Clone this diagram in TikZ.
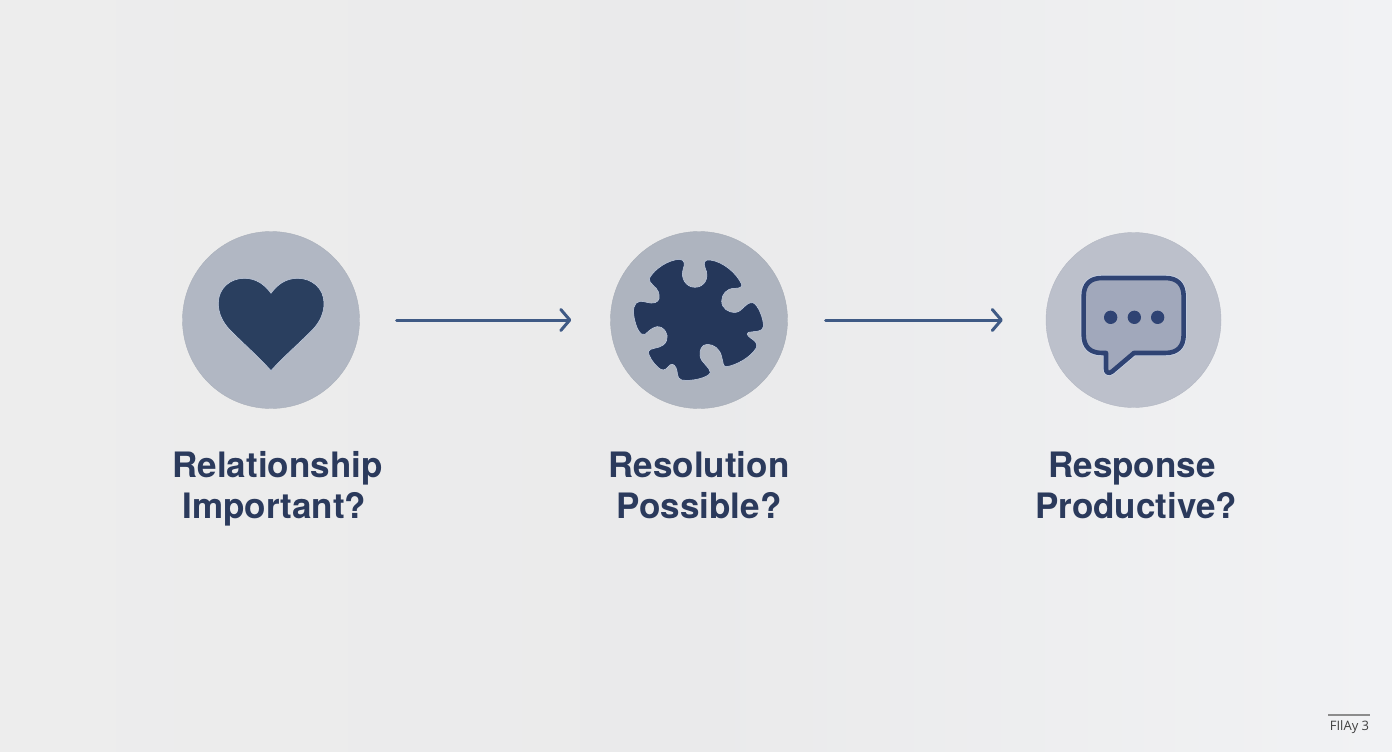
\documentclass[tikz,border=0pt]{standalone}
\usepackage{fontspec}
\setmainfont{TeX Gyre Heros}
\newfontfamily\footfont{Open Sans}
\usetikzlibrary{arrows.meta}
\definecolor{bgl}{HTML}{EDEDED}
\definecolor{bgm}{HTML}{EAEAEB}
\definecolor{bgr}{HTML}{F1F2F4}
\definecolor{ink}{HTML}{2B3A5C}
\definecolor{navy}{HTML}{2A3F5F}
\definecolor{navyb}{HTML}{25375A}
\definecolor{arrowc}{HTML}{3F5A85}
\definecolor{discA}{HTML}{B1B7C3}
\definecolor{discB}{HTML}{AEB4BF}
\definecolor{discC}{HTML}{BCC0CB}
\definecolor{bubble}{HTML}{A1A8BB}
\definecolor{bubbleline}{HTML}{2F4373}
\definecolor{halo}{HTML}{C9D3E6}
\tikzset{
  disc/.style 2 args={circle,draw=#1!96!black,line width=0.4pt,fill=#1,minimum size=#2,inner sep=0pt},
  flow/.style={draw=arrowc,line width=3pt,line cap=round,-{Straight Barb[length=9pt,width=21pt,line width=3pt,round]}},
  lab/.style={text=ink,font=\fontsize{35}{41.5}\selectfont\bfseries,align=center,inner sep=0pt},
  foot/.style={text=black!75,font=\footfont\fontsize{13}{15}\selectfont,inner sep=0pt},
  iconA/.style={fill=navy,draw=halo,line width=0.5pt},
  iconB/.style={fill=navyb,draw=halo,line width=0.5pt},
}
\begin{document}
\begin{tikzpicture}[x=1pt,y=-1pt]
\useasboundingbox (0,0) rectangle (1392,752);
\shade[left color=bgl,right color=bgr,middle color=bgm] (0,0) rectangle (1392,752);
\node[disc={discA}{177pt}] (c1) at (271,320) {};
\node[disc={discB}{177pt}] (c2) at (699,320) {};
\node[disc={discC}{175pt}] (c3) at (1133.5,320) {};
\path[flow,shorten <=37pt,shorten >=39pt] (c1) -- (c2);
\path[flow,shorten <=38pt,shorten >=43pt] (c2) -- (c3);
% heart
\begin{scope}[shift={(175,225)},x=0.3333pt,y=-0.3333pt]
\path[iconA] (288,437) .. controls (250,395) and (210,360) .. (165,315)
  .. controls (143,292) and (130,265) .. (130,235)
  .. controls (130,190) and (165,160) .. (208,160)
  .. controls (245,160) and (270,180) .. (288,205)
  .. controls (306,180) and (331,160) .. (368,160)
  .. controls (411,160) and (447,190) .. (447,235)
  .. controls (447,265) and (434,292) .. (412,315)
  .. controls (367,360) and (326,395) .. (288,437) -- cycle;
\end{scope}
% puzzle
\begin{scope}[shift={(600,225)},x=0.3333pt,y=-0.3333pt]
\path[iconB] (148,160)
 .. controls (165,130) and (205,105) .. (238,103)
 .. controls (255,103) and (255,120) .. (250,130)
 .. controls (240,160) and (258,187) .. (285,187)
 .. controls (312,187) and (330,160) .. (316,130)
 .. controls (308,112) and (315,103) .. (330,105)
 .. controls (370,110) and (410,145) .. (425,178)
 .. controls (428,188) and (415,190) .. (403,190)
 .. controls (380,190) and (365,208) .. (365,228)
 .. controls (365,250) and (385,264) .. (408,262)
 .. controls (430,258) and (435,232) .. (458,233)
 .. controls (475,238) and (492,285) .. (490,305)
 .. controls (488,322) and (465,318) .. (445,322)
 .. controls (435,328) and (450,338) .. (460,345)
 .. controls (470,352) and (473,362) .. (468,370)
 .. controls (450,398) and (410,420) .. (380,425)
 .. controls (368,427) and (370,410) .. (365,395)
 .. controls (360,372) and (342,358) .. (322,358)
 .. controls (305,358) and (298,375) .. (300,392)
 .. controls (303,415) and (330,425) .. (331,443)
 .. controls (325,458) and (275,470) .. (245,465)
 .. controls (228,460) and (235,440) .. (228,428)
 .. controls (222,415) and (212,415) .. (205,425)
 .. controls (195,438) and (185,437) .. (175,428)
 .. controls (160,415) and (145,392) .. (145,380)
 .. controls (148,368) and (175,372) .. (190,360)
 .. controls (208,345) and (205,320) .. (185,308)
 .. controls (165,298) and (150,315) .. (135,328)
 .. controls (120,335) and (108,305) .. (103,280)
 .. controls (98,255) and (100,232) .. (120,229)
 .. controls (135,228) and (150,238) .. (165,233)
 .. controls (180,228) and (180,215) .. (175,200)
 .. controls (170,185) and (145,175) .. (148,160) -- cycle;
\end{scope}
% speech bubble
\begin{scope}[shift={(1040,225)},x=0.3333pt,y=-0.3333pt]
\def\bubblepath{(186,159) -- (376,159) .. controls (412,159) and (431,178) .. (431,214)
  -- (431,329) .. controls (431,365) and (412,384) .. (376,384)
  -- (282,384) -- (216,440) .. controls (206,447) and (198,443) .. (198,432)
  -- (198,384) -- (186,384) .. controls (150,384) and (131,365) .. (131,329)
  -- (131,214) .. controls (131,178) and (150,159) .. (186,159) -- cycle}
\path[draw=halo,line width=6pt,line join=round] \bubblepath;
\path[fill=bubble,draw=bubbleline,line width=4.6pt,line join=round] \bubblepath;
\fill[bubbleline] (212,277) circle[radius=20];
\fill[bubbleline] (283,277) circle[radius=20];
\fill[bubbleline] (353,277) circle[radius=20];
\end{scope}
% labels
\node[lab] (t1) at (277.5,488.5) {Relationship\\[-0.5pt]\hspace*{-6pt}Important?};
\node[lab] (t2) at (699,485) {Resolution\\[-0.5pt]Possible?};
\node[lab] (t3) at (1136,485) {\hspace*{-8pt}Response\\[-0.5pt]Productive?};
% footer
\coordinate (fa) at (1328,715);
\coordinate (fb) at (1370,715);
\draw[draw=black!45,line width=1.2pt] (fa) -- (fb);
\node[foot] (ft) at (1349.5,727) {FIlAy 3};
\end{tikzpicture}
\end{document}
